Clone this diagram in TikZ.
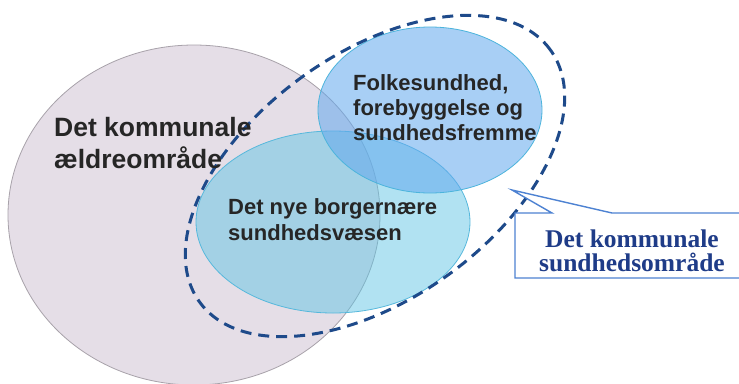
\documentclass[tikz,border=0pt]{standalone}
\usepackage{fontspec}
\setmainfont{Liberation Sans}
\newfontfamily\boxserif{Liberation Serif}
\definecolor{grayfill}{HTML}{E5DEE7}
\definecolor{grayline}{HTML}{A8A2AA}
\definecolor{lowfill}{HTML}{5CC4E4}
\definecolor{lowline}{HTML}{56B8DC}
\definecolor{upfill}{HTML}{62A8EE}
\definecolor{upline}{HTML}{4CB4DC}
\definecolor{dashblue}{HTML}{1E4A8A}
\definecolor{boxline}{HTML}{4D82D2}
\definecolor{boxtext}{HTML}{1F3C88}
\tikzset{
  labeltext/.style={anchor=base west, inner sep=0pt, align=left, font=\bfseries, text=black!85},
  boxlabel/.style={anchor=base, inner sep=0pt, align=center, font=\boxserif\bfseries\fontsize{25.5}{24}\selectfont, text=boxtext},
  areadash/.style={draw=dashblue, line width=3pt, dash pattern=on 11pt off 7pt},
}
\begin{document}
\begin{tikzpicture}[x=1pt,y=-1pt]
\useasboundingbox (0,0) rectangle (739,383);
\clip (0,0) rectangle (739,383);
\fill[white] (0,0) rectangle (739,383);
% grey ellipse
\draw[fill=grayfill, draw=grayline, line width=0.8pt] (194,215) ellipse [x radius=186pt, y radius=170pt];
% lower blue ellipse
\draw[fill=lowfill, fill opacity=0.48, draw=lowline, line width=0.8pt] (333,222) ellipse [x radius=137pt, y radius=91pt];
% upper blue ellipse
\draw[fill=upfill, fill opacity=0.55, draw=upline, line width=0.8pt] (430,110) ellipse [x radius=112pt, y radius=83pt];
% dashed ellipse
\draw[areadash, rotate around={35.6:(375,176)}] (375,176) ellipse [x radius=216pt, y radius=123pt];
% callout
\coordinate (tip) at (512,190);
\filldraw[fill=white, draw=boxline, line width=1.4pt] (515,213) -- (552,213) -- (tip) -- (612,213) -- (760,213) -- (760,278) -- (515,278) -- cycle;
% texts
\node[labeltext, font=\bfseries\fontsize{26.5}{32}\selectfont] (aeldre) at (54,168) {Det kommunale\\ældreområde};
\node[labeltext, font=\bfseries\fontsize{22}{25}\selectfont] (folke) at (353,140) {Folkesundhed,\\forebyggelse og\\sundhedsfremme};
\node[labeltext, font=\bfseries\fontsize{22}{26}\selectfont] (nye) at (228,240) {Det nye borgernære\\sundhedsvæsen};
\node[boxlabel] (sund) at (632,271) {Det kommunale\\sundhedsområde};
\end{tikzpicture}
\end{document}
